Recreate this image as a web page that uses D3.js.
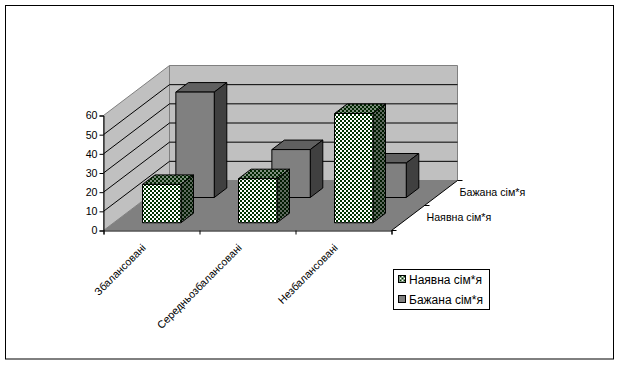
<!DOCTYPE html>
<html>
<head>
<meta charset="utf-8">
<script src="https://cdn.jsdelivr.net/npm/d3@7"></script>
<style>
  html, body { margin: 0; padding: 0; background: #fff; }
  svg { display: block; }
  text { font-family: "Liberation Sans", Arial, sans-serif; fill: #000; }
</style>
</head>
<body>
<script>
const categories = ["Збалансовані", "Середньозбалансовані", "Незбалансовані"];
const seriesNames = ["Наявна сім*я", "Бажана сім*я"];
const actualFamily = [20, 23, 57];
const desiredFamily = [55, 25, 18];
const yTicks = [0, 10, 20, 30, 40, 50, 60];

const svgWidth = 620, svgHeight = 365;
const svg = d3.select("body").append("svg")
    .attr("width", svgWidth)
    .attr("height", svgHeight);

// plot frame of the front plane + depth offset of the back plane
const x0 = 103.5, x1 = 391.5, yBase = 230.5, yTop = 115.5;
const depthX = 66, depthY = -50;

const xScale = d3.scaleBand().domain(categories).range([x0, x1]).paddingInner(0.6).paddingOuter(0.3);
const xEdge = d3.scaleLinear().domain([0, categories.length]).range([x0, x1]);
const yScale = d3.scaleLinear().domain([0, 60]).range([yBase, yTop]);
const depth = d3.scaleLinear().domain([0, 1]).range([0, 1]);

// project value on the chart: front-plane x/y pushed back by depth d
const px = (x, d) => x + depth(d) * depthX;
const py = (y, d) => y + depth(d) * depthY;
const poly = pts => pts.map(p => p.join(",")).join(" ");

// checker fills
const defs = svg.append("defs");
function checker(id, dark, light, size) {
    const p = defs.append("pattern")
        .attr("id", id)
        .attr("patternUnits", "userSpaceOnUse")
        .attr("width", size * 2)
        .attr("height", size * 2);
    p.append("rect").attr("width", size * 2).attr("height", size * 2).attr("fill", light);
    p.append("rect").attr("width", size).attr("height", size).attr("fill", dark).attr("shape-rendering", "crispEdges");
    p.append("rect").attr("x", size).attr("y", size).attr("width", size).attr("height", size).attr("fill", dark).attr("shape-rendering", "crispEdges");
}
checker("chkFront", "#003300", "#ffffff", 2);
checker("chkTop", "#002600", "#808f80", 2);
checker("chkSide", "#001a00", "#606a60", 2);

// outer border
svg.append("rect")
    .attr("x", 5.5).attr("y", 5.5)
    .attr("width", 608).attr("height", 353.5)
    .attr("fill", "#fff").attr("stroke", "#000");

// walls
svg.append("polygon")
    .attr("points", poly([[px(x0, 0), yBase], [px(x0, 1), py(yBase, 1)], [px(x0, 1), py(yTop, 1)], [px(x0, 0), yTop]]))
    .attr("fill", "#c0c0c0").attr("stroke", "#808080");
svg.append("polygon")
    .attr("points", poly([[px(x0, 1), py(yBase, 1)], [px(x1, 1), py(yBase, 1)], [px(x1, 1), py(yTop, 1)], [px(x0, 1), py(yTop, 1)]]))
    .attr("fill", "#c0c0c0").attr("stroke", "#808080");

// gridlines along both walls
const grid = svg.append("g").attr("fill", "none").attr("stroke", "#000");
yTicks.filter(t => t > 0 && t < 60).forEach(t => {
    grid.append("polyline")
        .attr("points", poly([[px(x0, 0), yScale(t)], [px(x0, 1), py(yScale(t), 1)], [px(x1, 1), py(yScale(t), 1)]]));
});

// floor
svg.append("polygon")
    .attr("points", poly([[px(x0, 0), yBase], [px(x1, 0), yBase], [px(x1, 1), py(yBase, 1)], [px(x0, 1), py(yBase, 1)]]))
    .attr("fill", "#808080");

// 3d bars, back row first
function drawRow(values, dFront, dBack, fFront, fTop, fSide) {
    const g = svg.append("g").attr("stroke", "#000").attr("stroke-linejoin", "round");
    categories.forEach((c, i) => {
        const left = xScale(c), right = left + xScale.bandwidth();
        const top = yScale(values[i]);
        g.append("polygon")
            .attr("points", poly([[px(left, dFront), py(top, dFront)], [px(left, dBack), py(top, dBack)], [px(right, dBack), py(top, dBack)], [px(right, dFront), py(top, dFront)]]))
            .attr("fill", fTop);
        g.append("polygon")
            .attr("points", poly([[px(right, dFront), py(top, dFront)], [px(right, dBack), py(top, dBack)], [px(right, dBack), py(yBase, dBack)], [px(right, dFront), py(yBase, dFront)]]))
            .attr("fill", fSide);
        g.append("polygon")
            .attr("points", poly([[px(left, dFront), py(top, dFront)], [px(right, dFront), py(top, dFront)], [px(right, dFront), py(yBase, dFront)], [px(left, dFront), py(yBase, dFront)]]))
            .attr("fill", fFront);
    });
}
drawRow(desiredFamily, 0.66, 0.85, "#808080", "#606060", "#404040");
drawRow(actualFamily, 0.155, 0.345, "url(#chkFront)", "url(#chkTop)", "url(#chkSide)");

// value axis
const yAxis = svg.append("g")
    .attr("transform", `translate(${x0},0)`)
    .call(d3.axisLeft(yScale).tickValues(yTicks).tickSize(4).tickPadding(2));
yAxis.selectAll("text").style("font-size", "10.67px").style("font-family", '"Liberation Sans", Arial, sans-serif');
yAxis.selectAll("line, path").attr("stroke", "#000");

// category axis
const xAxis = svg.append("g")
    .attr("transform", `translate(0,${yBase})`)
    .call(d3.axisBottom(xEdge).ticks(categories.length).tickFormat("").tickSize(4).tickSizeOuter(4));
xAxis.selectAll("line, path").attr("stroke", "#000");

svg.selectAll(".catLabel")
    .data(categories)
    .enter().append("text")
    .attr("class", "catLabel")
    .attr("text-anchor", "end")
    .attr("font-size", "10.67px")
    .attr("transform", d => `translate(${xScale(d) + xScale.bandwidth() / 2 - 5},${yBase + 18}) rotate(-45)`)
    .text(d => d);

// depth axis
svg.append("line")
    .attr("x1", px(x1, 0)).attr("y1", yBase)
    .attr("x2", px(x1, 1)).attr("y2", py(yBase, 1))
    .attr("stroke", "#000");
const depthSlots = [0, 0.5, 1];
svg.selectAll(".depthTick")
    .data(depthSlots)
    .enter().append("line")
    .attr("class", "depthTick")
    .attr("x1", d => px(x1, d)).attr("y1", d => py(yBase, d))
    .attr("x2", d => px(x1, d) + 5).attr("y2", d => py(yBase, d))
    .attr("stroke", "#000");
svg.selectAll(".depthLabel")
    .data(seriesNames)
    .enter().append("text")
    .attr("class", "depthLabel")
    .attr("font-size", "10.67px")
    .attr("x", (d, i) => px(x1, i * 0.5) + 35)
    .attr("y", (d, i) => py(yBase, i * 0.5) - 10)
    .text(d => d);

// legend
const legend = svg.append("g").attr("transform", "translate(393.5,269.5)");
legend.append("rect")
    .attr("width", 96).attr("height", 40)
    .attr("fill", "#fff").attr("stroke", "#000");
const legendFill = ["url(#chkFront)", "#808080"];
seriesNames.forEach((name, i) => {
    legend.append("rect")
        .attr("x", 5).attr("y", 6 + i * 20)
        .attr("width", 7).attr("height", 7)
        .attr("fill", legendFill[i]).attr("stroke", "#000");
    legend.append("text")
        .attr("x", 15.5).attr("y", 14 + i * 20)
        .attr("font-size", "12px")
        .text(name);
});
</script>
</body>
</html>
